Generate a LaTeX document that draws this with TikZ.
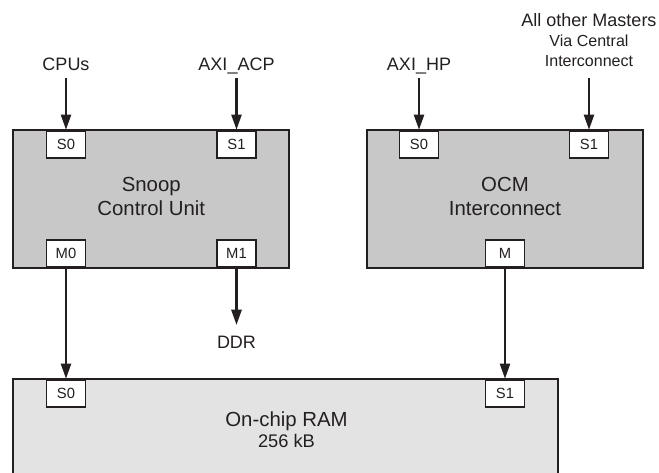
\documentclass[tikz,border=0pt]{standalone}
\usepackage{fontspec}
\setmainfont{Liberation Sans}
\usetikzlibrary{arrows.meta,positioning}

\definecolor{ink}{RGB}{35,31,32}
\definecolor{blockgray}{RGB}{200,200,200}
\definecolor{ramgray}{RGB}{227,227,227}

\tikzset{
  block/.style={draw=ink, line width=1.4pt, fill=blockgray, minimum width=6.9cm,
    minimum height=3.45cm, align=center, text=ink, text depth=3.7pt,
    font=\fontsize{14.5}{17.3}\selectfont},
  port/.style={draw=ink, line width=1.3pt, fill=white, minimum width=0.975cm,
    minimum height=0.675cm, inner sep=0pt, text=ink, font=\fontsize{10.5}{12}\selectfont},
  lbl/.style={inner sep=1pt, text depth=0pt, text=ink, font=\fontsize{12.8}{15}\selectfont},
  arr/.style={draw=ink, line width=2.1pt, -{Triangle[length=11pt,width=7pt]}}
}

\begin{document}
\begin{tikzpicture}[x=0.025cm, y=-0.025cm]
    \useasboundingbox (0,0) rectangle (659,473);
    \clip (0,0) rectangle (659,473);

    % Snoop Control Unit
    \node[block] (scu) at (151.25,199) {Snoop\\Control Unit};
    \node[port, anchor=north] (scus0) at (66,130) {S0};
    \node[port, anchor=north] (scus1) at (236.5,130) {S1};
    \node[port, anchor=south] (scum0) at (66,268) {M0};
    \node[port, anchor=south] (scum1) at (236.5,268) {M1};

    % OCM Interconnect
    \node[block] (ocm) at (505,199) {OCM\\Interconnect};
    \node[port, anchor=north] (ocms0) at (419,130) {S0};
    \node[port, anchor=north] (ocms1) at (589,130) {S1};
    \node[port, anchor=south] (ocmm) at (505,268) {M};

    % On-chip RAM
    \node[draw=ink, line width=1.4pt, fill=ramgray, minimum width=13.625cm,
      minimum height=2.8cm] (ram) at (285.5,435) {};
    \node[port, anchor=north] (rams0) at (66,379) {S0};
    \node[port, anchor=north] (rams1) at (505,379) {S1};
    \node[lbl, anchor=base, font=\fontsize{14.5}{17}\selectfont] (ramname) at (286.5,426.7) {On-chip RAM};
    \node[lbl, anchor=base, font=\fontsize{13}{15}\selectfont] (ramsize) at (286.5,447) {256 kB};

    % Masters
    \node[lbl, anchor=base] (cpus) at (66,70.5) {CPUs};
    \node[lbl, anchor=base] (acp) at (236.5,70.5) {AXI\_ACP};
    \node[lbl, anchor=base] (hp) at (419,70.5) {AXI\_HP};
    \node[lbl, anchor=south, align=center, font=\fontsize{11.4}{14.3}\selectfont] (others) at (589,68.4)
      {{\fontsize{12.8}{15}\selectfont All other Masters}\\Via Central\\Interconnect};
    \node[lbl, anchor=base] (ddr) at (236.5,348) {DDR};

    \draw[arr, shorten <=4pt] (cpus) -- (scus0);
    \draw[arr, shorten <=4pt] (acp) -- (scus1);
    \draw[arr, shorten <=4pt] (hp) -- (ocms0);
    \draw[arr, shorten <=6.8pt] (others) -- (ocms1);
    \draw[arr] (scum0) -- (rams0);
    \draw[arr, shorten >=6.2pt] (scum1) -- (ddr);
    \draw[arr] (ocmm) -- (rams1);
  \end{tikzpicture}
\end{document}
